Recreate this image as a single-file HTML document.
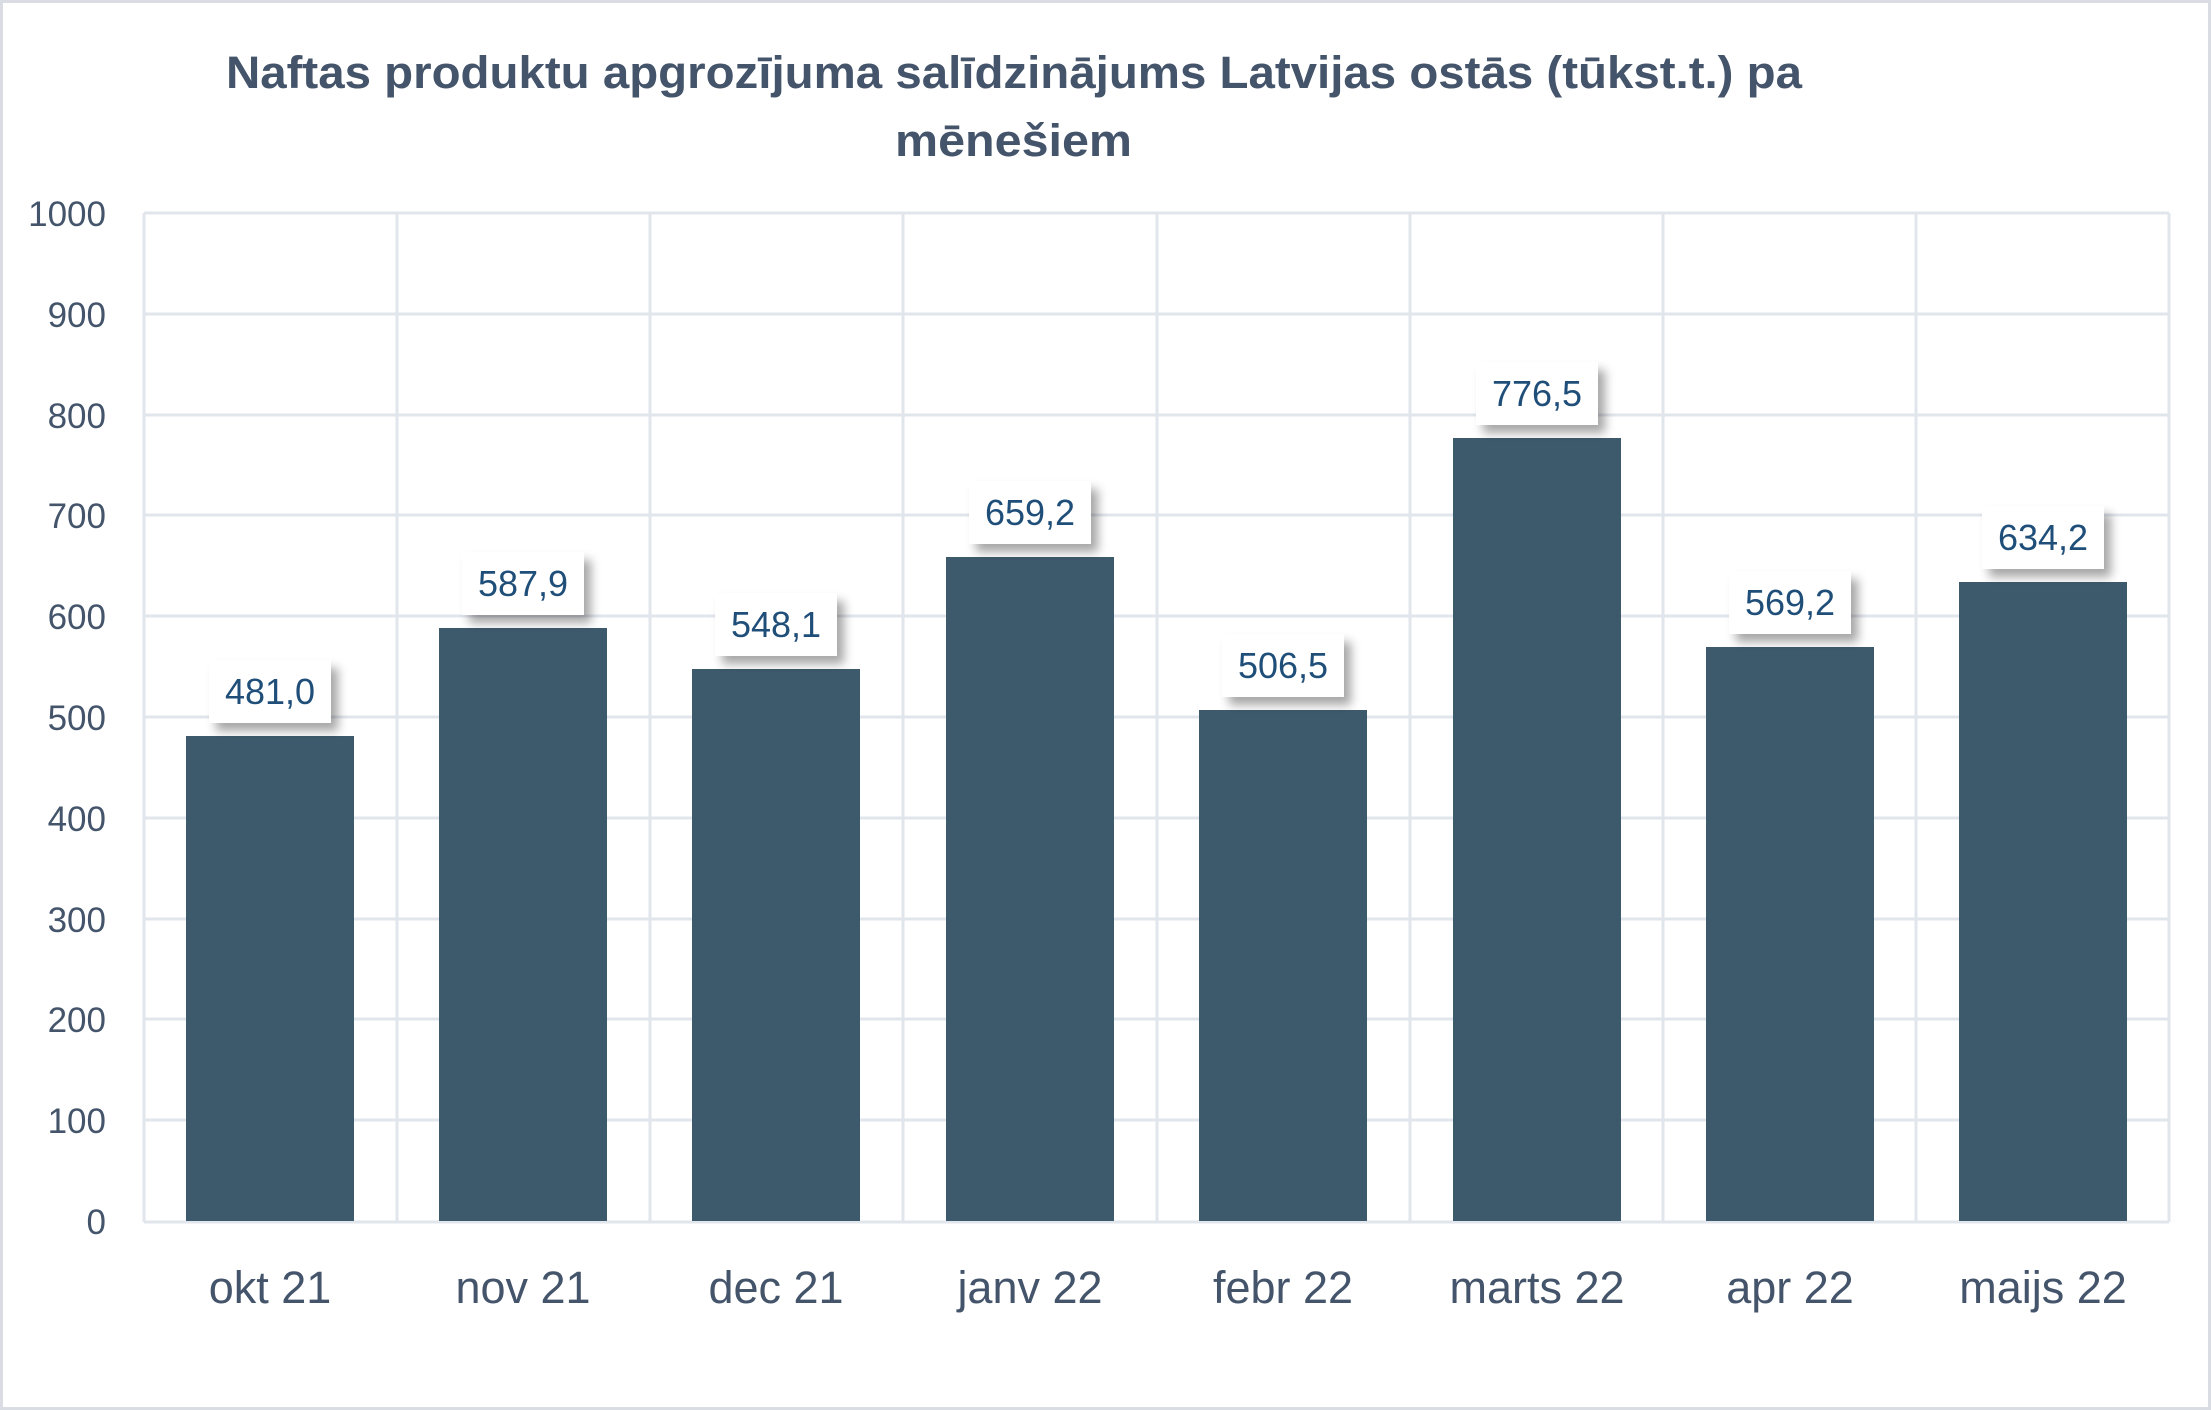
<!DOCTYPE html>
<html><head><meta charset="utf-8"><style>
html,body{margin:0;padding:0;background:#fff}
svg{display:block}
text{font-family:"Liberation Sans",sans-serif}
</style></head><body>
<svg width="2211" height="1410" viewBox="0 0 2211 1410" xmlns="http://www.w3.org/2000/svg">
<defs>
<filter id="sh" x="-30%" y="-30%" width="160%" height="180%">
<feDropShadow dx="7" dy="8" stdDeviation="5" flood-color="#000" flood-opacity="0.35"/>
</filter>
</defs>
<rect x="1.5" y="1.5" width="2208" height="1407" fill="#fff" stroke="#d9dde3" stroke-width="3"/>
<text x="226" y="88" textLength="1576" lengthAdjust="spacingAndGlyphs" font-size="45" font-weight="bold" fill="#44546a">Naftas produktu apgrozījuma salīdzinājums Latvijas ostās (tūkst.t.) pa</text>
<text x="895" y="156" textLength="237" lengthAdjust="spacingAndGlyphs" font-size="45" font-weight="bold" fill="#44546a">mēnešiem</text>
<g stroke="#e1e5ec" stroke-width="3" fill="none">
<line x1="144" y1="213" x2="2169" y2="213"/>
<line x1="144" y1="314" x2="2169" y2="314"/>
<line x1="144" y1="415" x2="2169" y2="415"/>
<line x1="144" y1="515" x2="2169" y2="515"/>
<line x1="144" y1="616" x2="2169" y2="616"/>
<line x1="144" y1="717" x2="2169" y2="717"/>
<line x1="144" y1="818" x2="2169" y2="818"/>
<line x1="144" y1="919" x2="2169" y2="919"/>
<line x1="144" y1="1019" x2="2169" y2="1019"/>
<line x1="144" y1="1120" x2="2169" y2="1120"/>
<line x1="144" y1="1222" x2="2169" y2="1222"/>
<line x1="144" y1="213" x2="144" y2="1222"/>
<line x1="397" y1="213" x2="397" y2="1222"/>
<line x1="650" y1="213" x2="650" y2="1222"/>
<line x1="903" y1="213" x2="903" y2="1222"/>
<line x1="1157" y1="213" x2="1157" y2="1222"/>
<line x1="1410" y1="213" x2="1410" y2="1222"/>
<line x1="1663" y1="213" x2="1663" y2="1222"/>
<line x1="1916" y1="213" x2="1916" y2="1222"/>
<line x1="2169" y1="213" x2="2169" y2="1222"/>
</g>
<g font-size="35" fill="#44546a" text-anchor="end">
<text x="106" y="226">1000</text>
<text x="106" y="327">900</text>
<text x="106" y="428">800</text>
<text x="106" y="528">700</text>
<text x="106" y="629">600</text>
<text x="106" y="730">500</text>
<text x="106" y="831">400</text>
<text x="106" y="932">300</text>
<text x="106" y="1032">200</text>
<text x="106" y="1133">100</text>
<text x="106" y="1234">0</text>
</g>
<g fill="#3d5a6c">
<rect x="186" y="736" width="168" height="485"/>
<rect x="439" y="628" width="168" height="593"/>
<rect x="692" y="669" width="168" height="552"/>
<rect x="946" y="557" width="168" height="664"/>
<rect x="1199" y="710" width="168" height="511"/>
<rect x="1453" y="438" width="168" height="783"/>
<rect x="1706" y="647" width="168" height="574"/>
<rect x="1959" y="582" width="168" height="639"/>
</g>
<g fill="#fff" filter="url(#sh)">
<rect x="209" y="660" width="122" height="63"/>
<rect x="462" y="552" width="122" height="63"/>
<rect x="715" y="593" width="122" height="63"/>
<rect x="969" y="481" width="122" height="63"/>
<rect x="1222" y="634" width="122" height="63"/>
<rect x="1476" y="362" width="122" height="63"/>
<rect x="1729" y="571" width="122" height="63"/>
<rect x="1982" y="506" width="122" height="63"/>
</g>
<g font-size="36" fill="#1f4e79" text-anchor="middle">
<text x="270" y="704">481,0</text>
<text x="523" y="596">587,9</text>
<text x="776" y="637">548,1</text>
<text x="1030" y="525">659,2</text>
<text x="1283" y="678">506,5</text>
<text x="1537" y="406">776,5</text>
<text x="1790" y="615">569,2</text>
<text x="2043" y="550">634,2</text>
</g>
<g font-size="45" fill="#44546a" text-anchor="middle">
<text x="270" y="1303">okt 21</text>
<text x="523" y="1303">nov 21</text>
<text x="776" y="1303">dec 21</text>
<text x="1030" y="1303">janv 22</text>
<text x="1283" y="1303">febr 22</text>
<text x="1537" y="1303">marts 22</text>
<text x="1790" y="1303">apr 22</text>
<text x="2043" y="1303">maijs 22</text>
</g>
</svg>
</body></html>
